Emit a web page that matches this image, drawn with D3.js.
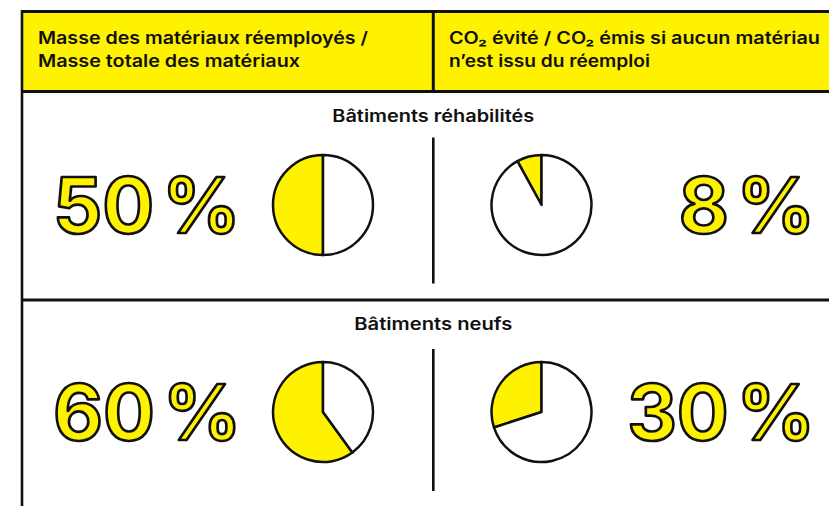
<!DOCTYPE html>
<html><head><meta charset="utf-8">
<script src="https://cdn.jsdelivr.net/npm/d3@7"></script>
<style>
html,body{margin:0;padding:0;background:#fff;}
svg{display:block;}
text{font-family:Inter,"Noto Sans",sans-serif;}
</style></head>
<body>
<div id="chart"></div>
<script>
// ---- data ----
const columnHeaders = [
  ["Masse des matériaux réemployés /", "Masse totale des matériaux"],
  ["CO₂ évité / CO₂ émis si aucun matériau", "n’est issu du réemploi"]
];
const buildingTypes = ["Bâtiments réhabilités", "Bâtiments neufs"];
const massReusedShare = [50, 60];   // % mass of reused materials
const co2AvoidedShare = [8, 30];    // % CO2 avoided

// ---- layout ----
const W = 829, H = 506;
const YELLOW = "#fff200";
const svg = d3.select("#chart").append("svg").attr("width", W).attr("height", H);

const frameLeft = 22, frameTop = 11.5, headerBottom = 91.5, colDiv = 433.3;
const rowY = d3.scaleOrdinal(buildingTypes, [205, 412]);
const subY = d3.scaleOrdinal(buildingTypes, [122, 330]);
const sepSpan = d3.scaleOrdinal(buildingTypes, [[137.5, 283.5], [349, 491]]);
const pieX = [323, 541.5];
const R = 50;

// header band
svg.append("rect").attr("x", frameLeft).attr("y", frameTop).attr("width", W - frameLeft + 5).attr("height", headerBottom - frameTop)
  .attr("fill", YELLOW);
svg.append("line").attr("x1", frameLeft).attr("x2", W + 5).attr("y1", frameTop).attr("y2", frameTop).attr("stroke", "#111").attr("stroke-width", 3);
svg.append("line").attr("x1", frameLeft).attr("x2", W + 5).attr("y1", headerBottom).attr("y2", headerBottom).attr("stroke", "#111").attr("stroke-width", 3);
svg.append("line").attr("x1", frameLeft).attr("x2", frameLeft).attr("y1", frameTop - 1.5).attr("y2", H + 5).attr("stroke", "#111").attr("stroke-width", 2.6);
svg.append("line").attr("x1", colDiv).attr("x2", colDiv).attr("y1", frameTop).attr("y2", headerBottom).attr("stroke", "#111").attr("stroke-width", 3);
svg.append("line").attr("x1", frameLeft).attr("x2", W + 5).attr("y1", 300).attr("y2", 300).attr("stroke", "#111").attr("stroke-width", 3);

// header texts
const headerX = [38, 449];
const headerW = [[330, 262], [371, 201]];
columnHeaders.forEach((lines, c) => {
  lines.forEach((ln, i) => {
    const t = svg.append("text").attr("x", headerX[c]).attr("y", 44 + i * 22.5)
      .attr("font-size", 17).attr("font-weight", 600).attr("fill", "#111").text(ln);
    t.attr("textLength", headerW[c][i]).attr("lengthAdjust", "spacingAndGlyphs");
  });
});

// rows
const arc = d3.arc().innerRadius(0).outerRadius(R);
const pie = d3.pie().sort(null).startAngle(0).endAngle(-2 * Math.PI);

buildingTypes.forEach((bt, r) => {
  svg.append("text").attr("x", colDiv).attr("y", subY(bt)).attr("text-anchor", "middle")
    .attr("font-size", 17).attr("font-weight", 600).attr("fill", "#111")
    .attr("textLength", bt.length > 16 ? 202 : 158).attr("lengthAdjust", "spacingAndGlyphs").text(bt);
  const [s0, s1] = sepSpan(bt);
  svg.append("line").attr("x1", colDiv).attr("x2", colDiv).attr("y1", s0).attr("y2", s1)
    .attr("stroke", "#111").attr("stroke-width", 2.6);

  const vals = [massReusedShare[r], co2AvoidedShare[r]];
  vals.forEach((v, c) => {
    const g = svg.append("g").attr("transform", `translate(${pieX[c]},${rowY(bt)})`);
    g.selectAll("path").data(pie([v, 100 - v])).join("path")
      .attr("d", arc).attr("fill", (d, i) => i === 0 ? YELLOW : "#fff")
      .attr("stroke", "#111").attr("stroke-width", 2.5).attr("stroke-linejoin", "round");
  });

  // big numbers
  const yb = rowY(bt) + 28;
  const fs = 77;
  const mk = (v, x, anchor) => {
    const t = svg.append("text").attr("x", x).attr("y", yb).attr("text-anchor", anchor)
      .style("font-size", fs + "px").style("font-weight", 700).style("fill", YELLOW)
      .style("stroke", "#111").style("stroke-width", "2.7px").style("stroke-linejoin", "round");
    t.append("tspan").text(String(v));
    t.append("tspan").attr("dx", 8).text("%");
    return t;
  };
  mk(vals[0], 53, "start");
  mk(vals[1], 815, "end");
});
</script>
</body></html>
